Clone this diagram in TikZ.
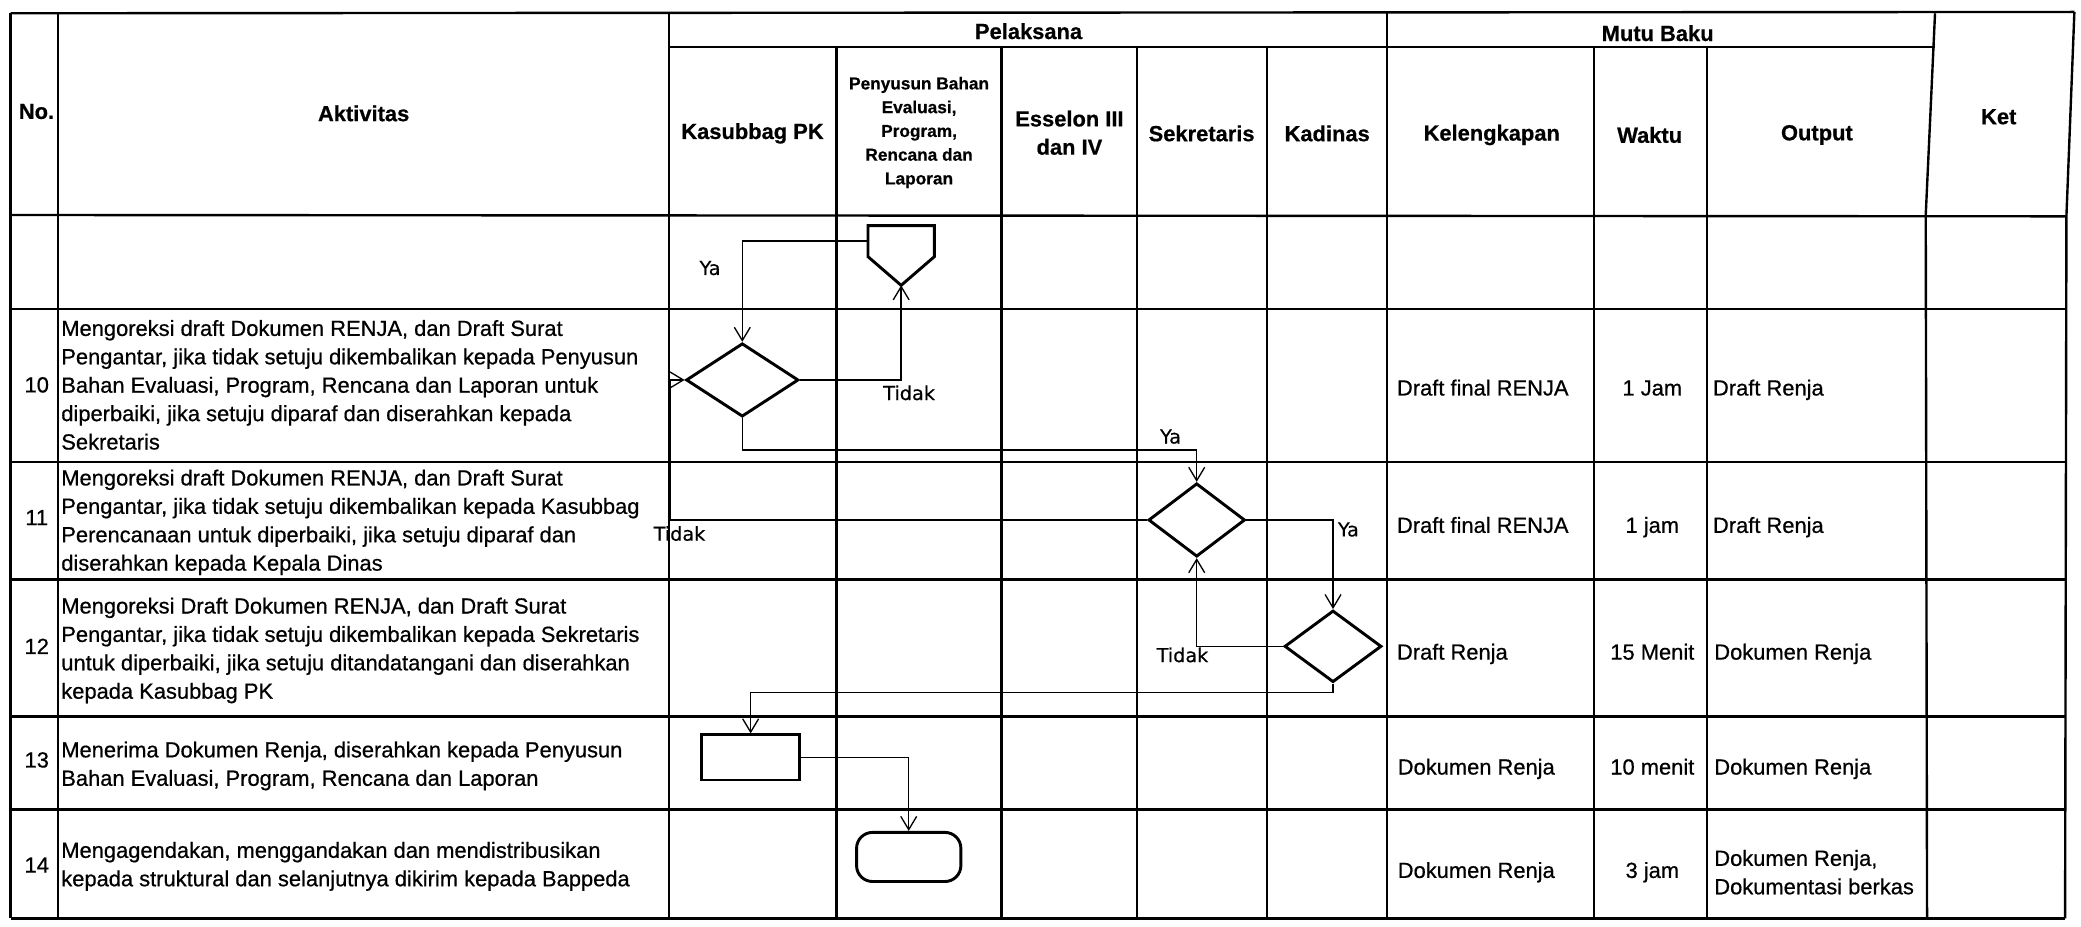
\documentclass[tikz,border=0pt]{standalone}
\usepackage{fontspec}
\setmainfont{Liberation Sans}[FakeBold=0.6]
\newfontfamily\lblfont{DejaVu Sans}[FakeBold=0.4]
\usetikzlibrary{arrows.meta,shapes.geometric}
\begin{document}
\begin{tikzpicture}[x=1pt,y=-1pt,
  grid/.style={line width=1.8pt},
  shp/.style={draw,line width=2.2pt},
  dia/.style={shp,diamond,inner sep=0pt},
  flow/.style={line width=1pt,-{Straight Barb[length=10pt,width=12pt]}},
  hd/.style={font=\bfseries\fontsize{16.5}{21.3}\selectfont,align=center,inner sep=0pt},
  hds/.style={font=\bfseries\fontsize{13}{17.9}\selectfont,align=center,inner sep=0pt},
  txt/.style={font=\fontsize{16.5}{21.4}\selectfont,align=left,inner sep=0pt,anchor=west},
  rtxt/.style={font=\fontsize{16.5}{21.4}\selectfont,inner sep=0pt,anchor=base west},
  ctr/.style={font=\fontsize{16.5}{21.4}\selectfont,inner sep=0pt},
  lbl/.style={font=\lblfont\fontsize{14.5}{16}\selectfont,inner sep=0pt},
]
\useasboundingbox (0,0) rectangle (1568,698);
\fill[white] (0,0) rectangle (1568,698);
% ---------- grid ----------
\draw[grid] (8,10) -- (1563,9);
\draw[grid] (504,35.5) -- (1458,35.5);
\draw[grid] (8,162) -- (1557,163);
\foreach \yy in {233,348,436.5,540,610} \draw[grid] (8,\yy) -- (1556,\yy);
\draw[grid] (8,692) -- (1556,692);
\foreach \xx in {8,43.7,504,1045} \draw[grid] (\xx,10) -- (\xx,692);
\foreach \xx in {630.3,754.7,856.6,954.7,1201,1286} \draw[grid] (\xx,35.5) -- (\xx,692);
\draw[grid] (1458,10) -- (1451,162) -- (1452,692);
\draw[grid] (1563,9) -- (1557,163) -- (1556,692);
% ---------- headers ----------
\node[hd] (hno) at (27.5,84) {No.};
\node[hd] (hakt) at (274,85.4) {Aktivitas};
\node[hd] (hpel) at (775,23.5) {Pelaksana};
\node[hd] (hmutu) at (1249,25) {Mutu Baku};
\node[hd] (hkas) at (567,100.5) {Kasubbag PK};
\node[hds] (hpen) at (692.5,99.8) {Penyusun Bahan\\Evaluasi,\\Program,\\Rencana dan\\Laporan};
\node[hd] (hess) at (805.8,100) {Esselon III\\dan IV};
\node[hd] (hsek) at (905.4,100.5) {Sekretaris};
\node[hd] (hkad) at (1000,100.5) {Kadinas};
\node[hd] (hkel) at (1124,101.7) {Kelengkapan};
\node[hd] (hwak) at (1243,101.7) {Waktu};
\node[hd] (hout) at (1369,101.7) {Output};
\node[hd] (hket) at (1506,88) {Ket};
% ---------- row numbers ----------
\node[ctr] (n10) at (27.7,290) {10};
\node[ctr] (n11) at (27.7,390) {11};
\node[ctr] (n12) at (27.7,487) {12};
\node[ctr] (n13) at (27.7,572.6) {13};
\node[ctr] (n14) at (27.7,651.8) {14};
% ---------- activities ----------
\node[txt] (a10) at (46,290) {Mengoreksi draft Dokumen RENJA, dan Draft Surat\\Pengantar, jika tidak setuju dikembalikan kepada Penyusun\\Bahan Evaluasi, Program, Rencana dan Laporan untuk\\diperbaiki, jika setuju diparaf dan diserahkan kepada\\Sekretaris};
\node[txt] (a11) at (46,393.6) {Mengoreksi draft Dokumen RENJA, dan Draft Surat\\Pengantar, jika tidak setuju dikembalikan kepada Kasubbag\\Perencanaan untuk diperbaiki, jika setuju diparaf dan\\diserahkan kepada Kepala Dinas};
\node[txt] (a12) at (46,490.1) {Mengoreksi Draft Dokumen RENJA, dan Draft Surat\\Pengantar, jika tidak setuju dikembalikan kepada Sekretaris\\untuk diperbaiki, jika setuju ditandatangani dan diserahkan\\kepada Kasubbag PK};
\node[txt] (a13) at (46,577.1) {Menerima Dokumen Renja, diserahkan kepada Penyusun\\Bahan Evaluasi, Program, Rencana dan Laporan};
\node[txt] (a14) at (46,652.8) {Mengagendakan, menggandakan dan mendistribusikan\\kepada struktural dan selanjutnya dikirim kepada Bappeda};
% ---------- mutu baku ----------
\node[rtxt] (k10) at (1052.4,298) {Draft final RENJA};
\node[rtxt] (k11) at (1052.4,401.5) {Draft final RENJA};
\node[rtxt] (k12) at (1052.4,497) {Draft Renja};
\node[rtxt] (k13) at (1053,583.6) {Dokumen Renja};
\node[rtxt] (k14) at (1053,661.5) {Dokumen Renja};
\node[ctr,anchor=base] (w10) at (1245,298) {1 Jam};
\node[ctr,anchor=base] (w11) at (1245,401.5) {1 jam};
\node[ctr,anchor=base] (w12) at (1245,497) {15 Menit};
\node[ctr,anchor=base] (w13) at (1245,583.6) {10 menit};
\node[ctr,anchor=base] (w14) at (1245,661.5) {3 jam};
\node[rtxt] (o10) at (1290.5,298) {Draft Renja};
\node[rtxt] (o11) at (1290.5,401.5) {Draft Renja};
\node[rtxt] (o12) at (1291.5,497) {Dokumen Renja};
\node[rtxt] (o13) at (1291.5,583.6) {Dokumen Renja};
\node[txt] (o14) at (1291.5,657.2) {Dokumen Renja,\\Dokumentasi berkas};
% ---------- flow shapes ----------
\draw[shp] (654,170) -- (704,170) -- (704,193.4) -- (679,215) -- (654,193.4) -- cycle;
\coordinate (conntip) at (679,215);
\coordinate (connleft) at (654,181.6);
\node[dia,minimum width=84.7pt,minimum height=55.3pt] (d1) at (559.3,286.3) {};
\node[dia,minimum width=72.8pt,minimum height=55.3pt] (d2) at (901.7,391.8) {};
\node[dia,minimum width=73.1pt,minimum height=54pt] (d3) at (1004.4,487) {};
\node[shp,rectangle,minimum width=74pt,minimum height=34pt,inner sep=0pt] (r13) at (565.6,570.7) {};
\node[shp,rectangle,rounded corners=12pt,minimum width=78.6pt,minimum height=37pt,inner sep=0pt] (t14) at (684.7,645.7) {};
% ---------- connectors ----------
\draw[flow] (connleft) -| (d1.north);
\draw[flow] (d1.east) -| (conntip);
\draw[flow] (d1.south) |- (d2.north |- 0,339) -- (d2.north);
\draw[flow] (d2.east) -| (d3.north);
\draw[flow] (d3.west) -| (d2.south);
\draw[flow] (d2.west) -- (d2.west -| 505,0) |- (d1.west);
\draw[flow] (d3.south) |- (r13.north |- 0,522) -- (r13.north);
\draw[flow] (r13.east) -| (t14.north);
% ---------- labels ----------
\node[lbl] (ya0) at (535,202) {Ya};
\node[lbl] (tdk1) at (685,296) {Tidak};
\node[lbl] (ya1) at (882,329) {Ya};
\node[lbl] (tdk2) at (512,402) {Tidak};
\node[lbl] (ya2) at (1016,399) {Ya};
\node[lbl] (tdk3) at (891,493.5) {Tidak};
\end{tikzpicture}
\end{document}
